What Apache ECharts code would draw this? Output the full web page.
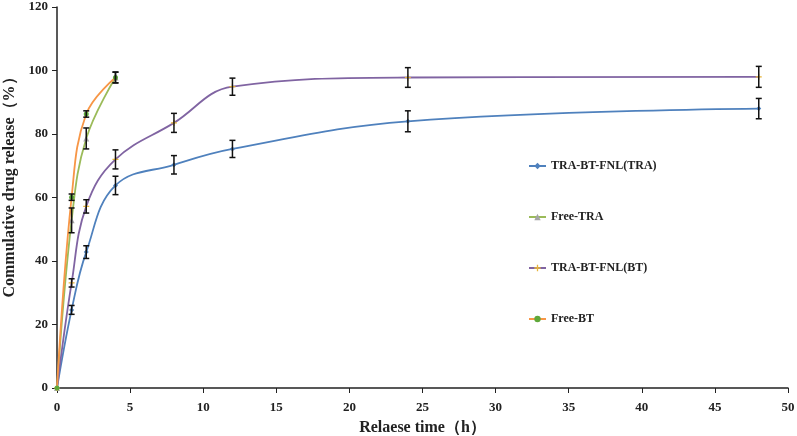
<!DOCTYPE html>
<html><head><meta charset="utf-8">
<script src="https://cdn.jsdelivr.net/npm/echarts@6/dist/echarts.min.js"></script>
<style>html,body{margin:0;padding:0;background:#fff}#c{width:797px;height:436px}</style>
</head><body><div id="c"></div>
<script>
var seriesNames = ['TRA-BT-FNL(TRA)', 'Free-TRA', 'TRA-BT-FNL(BT)', 'Free-BT'];
var timeLong = [0, 1, 2, 4, 8, 12, 24, 48];
var timeShort = [0, 1, 2, 4];
var traBtFnlTra = [0, 24.6, 42.8, 63.8, 70.3, 75.3, 84.0, 88.0];
var traBtFnlTraErr = [0, 1.4, 2.0, 2.9, 2.9, 2.7, 3.3, 3.2];
var freeTra = [0, 52.8, 78.6, 97.8];
var freeTraErr = [0, 3.9, 3.3, 1.7];
var traBtFnlBt = [0, 33.1, 57.2, 72.0, 83.5, 94.9, 97.8, 98.0];
var traBtFnlBtErr = [0, 1.3, 2.1, 3.0, 3.0, 2.7, 3.1, 3.3];
var freeBt = [0, 60.1, 86.3, 97.8];
var freeBtErr = [0, 1.0, 1.0, 1.7];
var xTicks = [0, 5, 10, 15, 20, 25, 30, 35, 40, 45, 50];
var yTicks = [0, 20, 40, 60, 80, 100, 120];

function pairs(xs, ys) { return xs.map(function (x, i) { return [x, ys[i]]; }); }
function errData(xs, ys, es) { return xs.map(function (x, i) { return [x, ys[i] - es[i], ys[i] + es[i]]; }); }

function errSeries(xs, ys, es) {
  return {
    type: 'custom', silent: true, z: 5,
    data: errData(xs, ys, es),
    encode: { x: 0, y: [1, 2] },
    renderItem: function (params, api) {
      var lo = api.coord([api.value(0), api.value(1)]);
      var hi = api.coord([api.value(0), api.value(2)]);
      if (Math.abs(hi[1] - lo[1]) < 1) return null;
      var w = 3;
      var st = { stroke: '#111', lineWidth: 1.5 };
      return { type: 'group', children: [
        { type: 'line', shape: { x1: lo[0], y1: lo[1], x2: hi[0], y2: hi[1] }, style: st },
        { type: 'line', shape: { x1: lo[0] - w, y1: lo[1], x2: lo[0] + w, y2: lo[1] }, style: st },
        { type: 'line', shape: { x1: hi[0] - w, y1: hi[1], x2: hi[0] + w, y2: hi[1] }, style: st }
      ]};
    }
  };
}

var font = '"Liberation Serif", "Times New Roman", serif';
var chart = echarts.init(document.getElementById('c'));
chart.setOption({
  backgroundColor: '#fff',
  animation: false,
  grid: { left: 57, right: 9, top: 7, bottom: 48, containLabel: false, outerBoundsMode: 'none' },
  legend: {
    data: seriesNames, orient: 'vertical', left: 523, top: 155,
    itemWidth: 17, itemHeight: 8, itemGap: 39,
    textStyle: { fontFamily: font, fontWeight: 'bold', fontSize: 12, color: '#222' }
  },
  xAxis: {
    type: 'value', min: 0, max: 50, interval: 5,
    name: 'Relaese time（h）', nameLocation: 'middle', nameGap: 32,
    nameTextStyle: { fontFamily: font, fontWeight: 'bold', fontSize: 16, color: '#222' },
    axisLine: { lineStyle: { color: '#222', width: 1.5 } },
    axisTick: { show: true, length: 5, lineStyle: { color: '#222' } },
    axisLabel: { fontFamily: font, fontWeight: 'bold', fontSize: 13, color: '#222', margin: 13 },
    splitLine: { show: false }
  },
  yAxis: {
    type: 'value', min: 0, max: 120, interval: 20,
    name: 'Commulative drug release（%）', nameLocation: 'middle', nameGap: 39, nameRotate: 90,
    nameTextStyle: { fontFamily: font, fontWeight: 'bold', fontSize: 16, color: '#222', padding: [0, 0, 0, 28] },
    axisLine: { show: true, lineStyle: { color: '#222', width: 1.5 } },
    axisTick: { show: true, length: 5, lineStyle: { color: '#222' } },
    axisLabel: { fontFamily: font, fontWeight: 'bold', fontSize: 13, color: '#222', margin: 9 },
    splitLine: { show: false }
  },
  series: [
    { name: seriesNames[0], type: 'line', smooth: 0.4, data: pairs(timeLong, traBtFnlTra),
      symbol: 'diamond', symbolSize: 5, lineStyle: { color: '#4F81BD', width: 1.8 },
      itemStyle: { color: '#4F81BD' }, z: 3 },
    { name: seriesNames[1], type: 'line', smooth: 0.4, data: pairs(timeShort, freeTra),
      symbol: 'triangle', symbolSize: 6, lineStyle: { color: '#9BBB59', width: 1.8 },
      itemStyle: { color: '#A5A5A5' }, z: 3 },
    { name: seriesNames[2], type: 'line', smooth: 0.4, data: pairs(timeLong, traBtFnlBt),
      symbol: 'path://M4,0h2v4h4v2h-4v4h-2v-4h-4v-2h4z', symbolSize: 6, lineStyle: { color: '#8064A2', width: 1.8 },
      itemStyle: { color: '#E8B53C' }, z: 3 },
    { name: seriesNames[3], type: 'line', smooth: 0.4, data: pairs(timeShort, freeBt),
      symbol: 'circle', symbolSize: 5, lineStyle: { color: '#F79646', width: 1.8 },
      itemStyle: { color: '#5FA83A' }, z: 4 },
    errSeries(timeLong, traBtFnlTra, traBtFnlTraErr),
    errSeries(timeShort, freeTra, freeTraErr),
    errSeries(timeLong, traBtFnlBt, traBtFnlBtErr),
    errSeries(timeShort, freeBt, freeBtErr)
  ]
});
</script></body></html>
